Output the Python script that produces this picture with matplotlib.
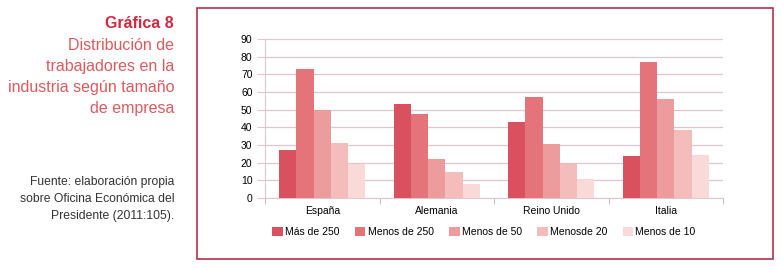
import numpy as np
import matplotlib.pyplot as plt
from matplotlib.patches import Rectangle

plt.rcParams['font.family'] = ['Liberation Sans', 'DejaVu Sans']

# data
paises = ["España", "Alemania", "Reino Unido", "Italia"]
series = ["Más de 250", "Menos de 250", "Menos de 50", "Menosde 20", "Menos de 10"]
mas_250 = [27, 53, 43, 23.5]
menos_250 = [73, 47.5, 57, 77]
menos_50 = [50, 22, 30.5, 56]
menos_20 = [31, 15, 19, 38.5]
menos_10 = [19, 8, 11, 24.5]
yticks = list(range(0, 100, 10))

colores = ["#d9505e", "#e4747a", "#ec9c9c", "#f4bcbb", "#f9dad8"]
valores = [mas_250, menos_250, menos_50, menos_20, menos_10]

W, H = 782, 267
fig = plt.figure(figsize=(W / 100, H / 100), dpi=100)

# outer frame
fig.patches.append(Rectangle((197 / W, 1 - 259 / H), (773 - 197) / W, (259 - 8) / H,
                             transform=fig.transFigure, fill=False,
                             edgecolor="#b5304f", linewidth=1.2))

ax = fig.add_axes([265 / W, 1 - 198 / H, (723 - 265) / W, (198 - 39) / H])

x = np.arange(len(paises))
bw = 0.15
for i, (vals, c, lab) in enumerate(zip(valores, colores, series)):
    ax.bar(x + (i - 2) * bw, vals, width=bw, color=c, label=lab, zorder=3)

ax.set_xlim(-0.5, len(paises) - 0.5)
ax.set_ylim(0, 90)
ax.set_yticks(yticks)
ax.yaxis.grid(True, color="#e2c6ce", linewidth=0.9, zorder=0)
ax.tick_params(axis='y', length=6, color="#e2c6ce", labelsize=7.5, pad=3)

ax.set_xticks(x)
ax.set_xticklabels(paises, fontsize=7.5)
ax.tick_params(axis='x', length=0, pad=6)
ax.set_xticks(np.arange(len(paises) + 1) - 0.5, minor=True)
ax.tick_params(axis='x', which='minor', length=4, color="#c9a8b2", direction='out')

for s in ["top", "right"]:
    ax.spines[s].set_visible(False)
ax.spines["left"].set_color("#e2c6ce")
ax.spines["bottom"].set_color("#e2c6ce")

fig.legend(loc='center', bbox_to_anchor=(484 / W, 1 - 232 / H), ncol=5,
           frameon=False, fontsize=7.5, handlelength=1.0, handleheight=1.0,
           handletextpad=0.2, columnspacing=1.5)

# left side text
fig.text(174 / W, 1 - 23 / H, "Gráfica 8", ha='right', va='center',
         fontsize=11.5, fontweight='bold', color="#cf2b40")
sub = ["Distribución de", "trabajadores en la", "industria según tamaño", "de empresa"]
for k, t in enumerate(sub):
    fig.text(174 / W, 1 - (45 + k * 21.3) / H, t, ha='right', va='center',
             fontsize=11.5, color="#df5a5e")
fuente = ["Fuente: elaboración propia", "sobre Oficina Económica del", "Presidente (2011:105)."]
for k, t in enumerate(fuente):
    fig.text(174 / W, 1 - (182 + k * 17) / H, t, ha='right', va='center',
             fontsize=8.7, color="#333333")

fig.savefig("out.png", dpi=100)
